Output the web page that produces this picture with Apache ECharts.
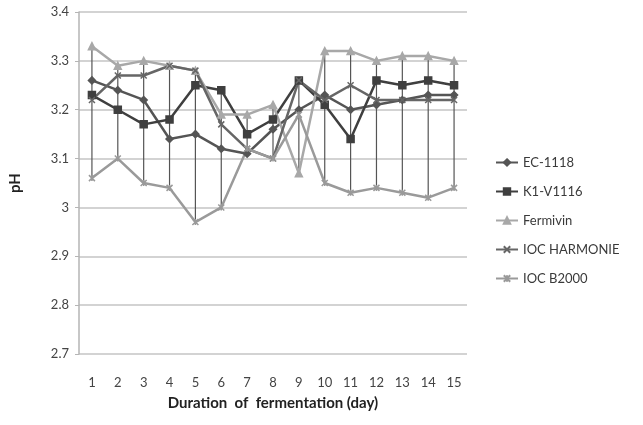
<!DOCTYPE html>
<html>
<head>
<meta charset="utf-8">
<script src="https://cdn.jsdelivr.net/npm/echarts@6/dist/echarts.min.js"></script>
<style>
  html, body { margin: 0; padding: 0; background: #fff; }
  #chart { width: 643px; height: 425px; }
</style>
</head>
<body>
<div id="chart"></div>
<script>
var days = ['1','2','3','4','5','6','7','8','9','10','11','12','13','14','15'];
var ec1118    = [3.26,3.24,3.22,3.14,3.15,3.12,3.11,3.16,3.20,3.23,3.20,3.21,3.22,3.23,3.23];
var k1v1116   = [3.23,3.20,3.17,3.18,3.25,3.24,3.15,3.18,3.26,3.21,3.14,3.26,3.25,3.26,3.25];
var fermivin  = [3.33,3.29,3.30,3.29,3.28,3.19,3.19,3.21,3.07,3.32,3.32,3.30,3.31,3.31,3.30];
var harmonie  = [3.22,3.27,3.27,3.29,3.28,3.17,3.12,3.10,3.26,3.22,3.25,3.22,3.22,3.22,3.22];
var b2000     = [3.06,3.10,3.05,3.04,2.97,3.00,3.12,3.10,3.19,3.05,3.03,3.04,3.03,3.02,3.04];
var yTicks = { min: 2.7, max: 3.4, step: 0.1 };

var allSeries = [ec1118, k1v1116, fermivin, harmonie, b2000];
var hiLo = days.map(function (d, i) {
  var vals = allSeries.map(function (s) { return s[i]; });
  return [i, Math.max.apply(null, vals), Math.min.apply(null, vals)];
});

var xPath = 'path://M0,0 L10,10 M10,0 L0,10';
var starPath = 'path://M0,0 L10,10 M10,0 L0,10 M5,0 L5,10';

var chart = echarts.init(document.getElementById('chart'));

function lineSeries(name, data, color, symbol, size) {
  return {
    name: name,
    type: 'line',
    data: data,
    symbol: symbol,
    symbolSize: size,
    showAllSymbol: true,
    lineStyle: { color: color, width: 2.5 },
    itemStyle: { color: color, borderColor: color, borderWidth: 1.5 },
    z: 3
  };
}

var option = {
  animation: false,
  textStyle: { fontFamily: 'Lato' },
  grid: { left: 75, right: 176, top: 12, bottom: 71 },
  legend: {
    orient: 'vertical',
    left: 490,
    top: 151,
    itemGap: 16,
    itemWidth: 22,
    itemHeight: 8,
    textStyle: { color: '#3a3a3a', fontSize: 13, fontFamily: 'Lato' },
    data: ['EC-1118', 'K1-V1116', 'Fermivin', 'IOC HARMONIE', 'IOC B2000']
  },
  xAxis: {
    type: 'category',
    data: days,
    boundaryGap: true,
    name: 'Duration  of  fermentation (day)',
    nameLocation: 'middle',
    nameGap: 42,
    nameTextStyle: { fontSize: 15, fontWeight: 'bold', color: '#222' },
    axisLine: { show: false },
    axisTick: { show: false },
    axisLabel: { color: '#444', fontSize: 13, margin: 22 }
  },
  yAxis: {
    type: 'value',
    min: yTicks.min,
    max: yTicks.max,
    interval: yTicks.step,
    name: 'pH',
    nameLocation: 'middle',
    nameGap: 56,
    nameRotate: 90,
    nameTextStyle: { fontSize: 15, fontWeight: 'bold', color: '#222' },
    axisLine: { show: true, lineStyle: { color: '#b5b5b5', width: 1.5 } },
    axisTick: { show: true, length: 4, lineStyle: { color: '#b5b5b5' } },
    axisLabel: {
      color: '#444', fontSize: 13, margin: 10,
      formatter: function (v) { return String(Math.round(v * 10) / 10); }
    },
    splitLine: { lineStyle: { color: '#c4c4c4', width: 1.5 } }
  },
  series: [
    {
      type: 'custom',
      silent: true,
      data: hiLo,
      z: 2,
      renderItem: function (params, api) {
        var top = api.coord([api.value(0), api.value(1)]);
        var bot = api.coord([api.value(0), api.value(2)]);
        return {
          type: 'line',
          shape: { x1: top[0], y1: top[1], x2: bot[0], y2: bot[1] },
          style: { stroke: '#555', lineWidth: 1.2 }
        };
      }
    },
    lineSeries('EC-1118', ec1118, '#555555', 'diamond', 7),
    lineSeries('K1-V1116', k1v1116, '#3f3f3f', 'rect', 7),
    lineSeries('Fermivin', fermivin, '#a8a8a8', 'triangle', 7),
    lineSeries('IOC HARMONIE', harmonie, '#666666', xPath, 6),
    lineSeries('IOC B2000', b2000, '#9a9a9a', starPath, 6)
  ]
};

chart.setOption(option);
</script>
</body>
</html>
